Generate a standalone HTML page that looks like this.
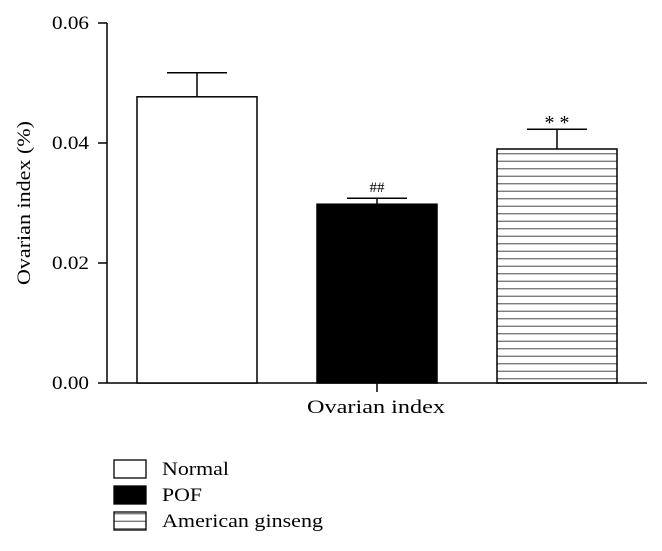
<!DOCTYPE html>
<html><head><meta charset="utf-8"><style>
html,body{margin:0;padding:0;background:#fff;}
svg{display:block;font-family:"Liberation Serif",serif;}
</style></head><body>
<svg id="chart" width="662" height="551" viewBox="0 0 662 551">
<defs>
<pattern id="hatch" patternUnits="userSpaceOnUse" x="0" y="0" width="8" height="7.5">
<line x1="0" y1="3.75" x2="8" y2="3.75" stroke="#666" stroke-width="1.2"/>
</pattern>
</defs>
<g id="axes"></g>
<g id="bars"></g>
<g id="legend"></g>
</svg>
<script>
const categories = ["Normal", "POF", "American ginseng"];
const values = [0.0477, 0.0298, 0.0390];
const errors = [0.0040, 0.0010, 0.0033];
const marks = ["", "##", "* *"];
const ticks = [0, 0.02, 0.04, 0.06];
const tickLabels = ["0.00", "0.02", "0.04", "0.06"];

const NS = "http://www.w3.org/2000/svg";
const y0 = 383, yTop = 23, vmax = 0.06;
function yScale(v){ return y0 - (v / vmax) * (y0 - yTop); }
const barW = 120, firstX = 137, step = 180;
function xScale(i){ return firstX + i * step; }
const fills = ["#fff", "#000", "url(#hatch)"];
const legendLens = [67, 40, 161];

function mk(tag, attrs, parent){
  const e = document.createElementNS(NS, tag);
  for (const k in attrs) e.setAttribute(k, attrs[k]);
  parent.appendChild(e);
  return e;
}
const axes = document.getElementById("axes");
const bars = document.getElementById("bars");
const legend = document.getElementById("legend");

const yAxis = mk("line", {x1:107, y1:yTop, x2:107, y2:y0, stroke:"#000", "stroke-width":1.5}, axes);


const xAxis = mk("line", {x1:107, y1:y0, x2:647, y2:y0, stroke:"#000", "stroke-width":1.5}, axes);


const xt = mk("line", {x1:377, y1:y0, x2:377, y2:y0+9, stroke:"#000", "stroke-width":1.5}, axes);


const xl = mk("text", {x:307, y:413, "font-size":19, textLength:138, lengthAdjust:"spacingAndGlyphs"}, axes);
xl.textContent = "Ovarian index";



ticks.forEach((t, i) => {
  const y = yScale(t);
  const l = mk("line", {x1:98, y1:y, x2:107, y2:y, stroke:"#000", "stroke-width":1.5}, axes);
  
  
  const tx = mk("text", {x:52, y:y+6, "font-size":19, textLength:37, lengthAdjust:"spacingAndGlyphs"}, axes);
  tx.textContent = tickLabels[i];
  
  
});
const yt = mk("text", {x:-82, y:0, "font-size":19, textLength:164, lengthAdjust:"spacingAndGlyphs", transform:"translate(30,203) rotate(-90)"}, axes);
yt.textContent = "Ovarian index (%)";



values.forEach((v, i) => {
  const x = xScale(i), y = yScale(v), cx = x + barW/2;
  const r = mk("rect", {x:x, y:y, width:barW, height:y0-y, fill:fills[i], stroke:"#000", "stroke-width":1.5}, bars);
  
  
  const ye = yScale(v + errors[i]);
  const e1 = mk("line", {x1:cx, y1:y, x2:cx, y2:ye, stroke:"#000", "stroke-width":1.5}, bars);
  
  
  const e2 = mk("line", {x1:cx-30, y1:ye, x2:cx+30, y2:ye, stroke:"#000", "stroke-width":1.5}, bars);
  
  
  if (marks[i]) {
    const m = mk("text", {x:cx, y:ye + (marks[i].indexOf('*')>=0 ? 0 : -6), "text-anchor":"middle", "font-size": marks[i].indexOf('*')>=0 ? 20 : 15}, bars);
    m.textContent = marks[i];
    
    
  }
});

const ly = [460, 486, 512];
categories.forEach((c, i) => {
  const b = mk("rect", {x:114, y:ly[i], width:32, height:18, fill:fills[i], stroke:"#000", "stroke-width":1.3}, legend);
  
  
  const t = mk("text", {x:162, y:ly[i]+15, "font-size":19, textLength:legendLens[i], lengthAdjust:"spacingAndGlyphs"}, legend);
  t.textContent = c;
  
  
});
</script>
</body></html>
